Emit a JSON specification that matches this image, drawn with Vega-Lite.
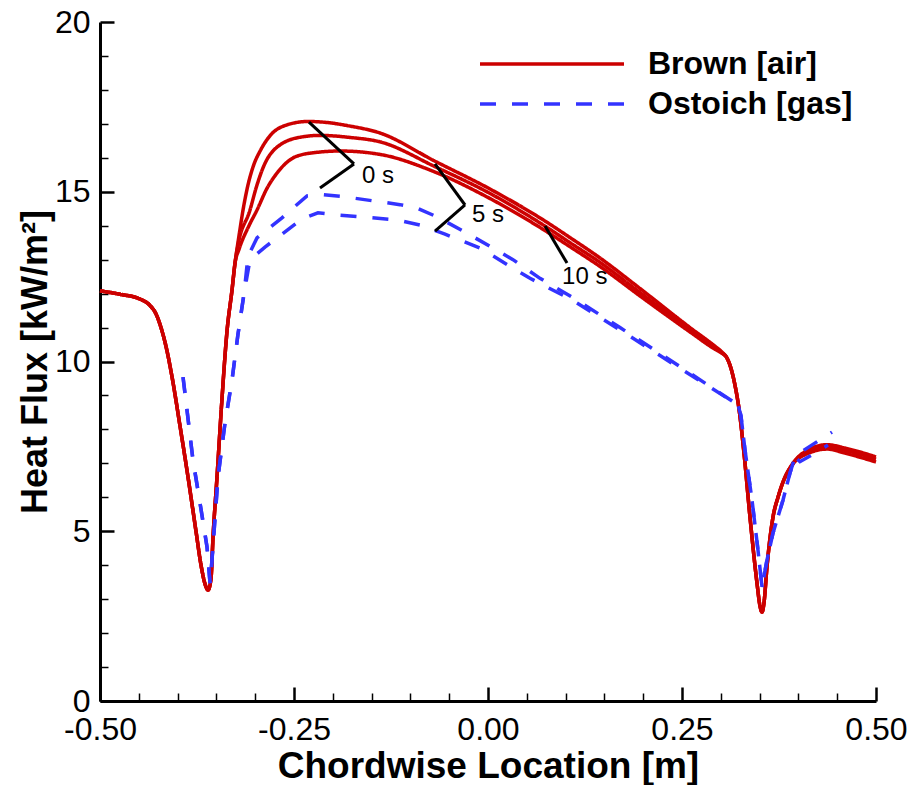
{
  "$schema": "https://vega.github.io/schema/vega-lite/v6.json",
  "width": 776,
  "height": 679,
  "autosize": {"type": "none"},
  "padding": {"left": 100, "top": 22, "right": 35, "bottom": 84},
  "config": {"view": {"stroke": null}, "font": "Liberation Sans"},
  "datasets": {
    "curves": [
      {"source":"Brown [air]","run":"0 s","x":-0.5,"y":12.08},{"source":"Brown [air]","run":"0 s","x":-0.4742,"y":11.98},{"source":"Brown [air]","run":"0 s","x":-0.4485,"y":11.84},{"source":"Brown [air]","run":"0 s","x":-0.4356,"y":11.65},{"source":"Brown [air]","run":"0 s","x":-0.4278,"y":11.4},{"source":"Brown [air]","run":"0 s","x":-0.4214,"y":11.0},{"source":"Brown [air]","run":"0 s","x":-0.415,"y":10.45},{"source":"Brown [air]","run":"0 s","x":-0.4072,"y":9.55},{"source":"Brown [air]","run":"0 s","x":-0.3969,"y":8.1},{"source":"Brown [air]","run":"0 s","x":-0.3866,"y":6.6},{"source":"Brown [air]","run":"0 s","x":-0.3763,"y":5.0},{"source":"Brown [air]","run":"0 s","x":-0.3698,"y":4.0},{"source":"Brown [air]","run":"0 s","x":-0.3647,"y":3.45},{"source":"Brown [air]","run":"0 s","x":-0.3608,"y":3.27},{"source":"Brown [air]","run":"0 s","x":-0.357,"y":3.6},{"source":"Brown [air]","run":"0 s","x":-0.3544,"y":4.8},{"source":"Brown [air]","run":"0 s","x":-0.3492,"y":6.6},{"source":"Brown [air]","run":"0 s","x":-0.3428,"y":8.9},{"source":"Brown [air]","run":"0 s","x":-0.3363,"y":10.9},{"source":"Brown [air]","run":"0 s","x":-0.3299,"y":12.1},{"source":"Brown [air]","run":"0 s","x":-0.326,"y":12.9},
      {"source":"Brown [air]","run":"0 s","x":-0.3209,"y":13.7},{"source":"Brown [air]","run":"0 s","x":-0.3157,"y":14.46},{"source":"Brown [air]","run":"0 s","x":-0.3093,"y":15.2},{"source":"Brown [air]","run":"0 s","x":-0.3028,"y":15.73},{"source":"Brown [air]","run":"0 s","x":-0.2925,"y":16.25},{"source":"Brown [air]","run":"0 s","x":-0.2809,"y":16.65},{"source":"Brown [air]","run":"0 s","x":-0.259,"y":16.97},{"source":"Brown [air]","run":"0 s","x":-0.232,"y":17.07},{"source":"Brown [air]","run":"0 s","x":-0.2036,"y":17.03},{"source":"Brown [air]","run":"0 s","x":-0.1817,"y":16.95},{"source":"Brown [air]","run":"0 s","x":-0.1392,"y":16.73},{"source":"Brown [air]","run":"0 s","x":-0.0683,"y":15.9},{"source":"Brown [air]","run":"0 s","x":0.0026,"y":15.08},{"source":"Brown [air]","run":"0 s","x":0.076,"y":14.1},{"source":"Brown [air]","run":"0 s","x":0.1057,"y":13.65},{"source":"Brown [air]","run":"0 s","x":0.1443,"y":13.05},{"source":"Brown [air]","run":"0 s","x":0.1959,"y":12.15},{"source":"Brown [air]","run":"0 s","x":0.2603,"y":11.0},{"source":"Brown [air]","run":"0 s","x":0.2925,"y":10.45},{"source":"Brown [air]","run":"0 s","x":0.3015,"y":10.28},
      {"source":"Brown [air]","run":"0 s","x":0.308,"y":10.1},{"source":"Brown [air]","run":"0 s","x":0.3131,"y":9.8},{"source":"Brown [air]","run":"0 s","x":0.3183,"y":9.3},{"source":"Brown [air]","run":"0 s","x":0.3235,"y":8.6},{"source":"Brown [air]","run":"0 s","x":0.3299,"y":7.3},{"source":"Brown [air]","run":"0 s","x":0.3376,"y":5.42},{"source":"Brown [air]","run":"0 s","x":0.3466,"y":3.48},{"source":"Brown [air]","run":"0 s","x":0.3505,"y":2.8},{"source":"Brown [air]","run":"0 s","x":0.3531,"y":2.62},{"source":"Brown [air]","run":"0 s","x":0.3557,"y":2.9},{"source":"Brown [air]","run":"0 s","x":0.3595,"y":3.95},{"source":"Brown [air]","run":"0 s","x":0.3673,"y":5.42},{"source":"Brown [air]","run":"0 s","x":0.3737,"y":6.0},{"source":"Brown [air]","run":"0 s","x":0.3802,"y":6.45},{"source":"Brown [air]","run":"0 s","x":0.393,"y":7.0},{"source":"Brown [air]","run":"0 s","x":0.4111,"y":7.38},{"source":"Brown [air]","run":"0 s","x":0.4369,"y":7.55},{"source":"Brown [air]","run":"0 s","x":0.46,"y":7.45},{"source":"Brown [air]","run":"0 s","x":0.5,"y":7.19},

      {"source":"Brown [air]","run":"5 s","x":-0.5,"y":12.08},{"source":"Brown [air]","run":"5 s","x":-0.4742,"y":11.98},{"source":"Brown [air]","run":"5 s","x":-0.4485,"y":11.84},{"source":"Brown [air]","run":"5 s","x":-0.4356,"y":11.65},{"source":"Brown [air]","run":"5 s","x":-0.4278,"y":11.4},{"source":"Brown [air]","run":"5 s","x":-0.4214,"y":11.0},{"source":"Brown [air]","run":"5 s","x":-0.415,"y":10.45},{"source":"Brown [air]","run":"5 s","x":-0.4072,"y":9.55},{"source":"Brown [air]","run":"5 s","x":-0.3969,"y":8.1},{"source":"Brown [air]","run":"5 s","x":-0.3866,"y":6.6},{"source":"Brown [air]","run":"5 s","x":-0.3763,"y":5.0},{"source":"Brown [air]","run":"5 s","x":-0.3698,"y":4.0},{"source":"Brown [air]","run":"5 s","x":-0.3647,"y":3.45},{"source":"Brown [air]","run":"5 s","x":-0.3608,"y":3.27},{"source":"Brown [air]","run":"5 s","x":-0.357,"y":3.6},{"source":"Brown [air]","run":"5 s","x":-0.3544,"y":4.8},{"source":"Brown [air]","run":"5 s","x":-0.3492,"y":6.6},{"source":"Brown [air]","run":"5 s","x":-0.3428,"y":8.9},{"source":"Brown [air]","run":"5 s","x":-0.3363,"y":10.9},{"source":"Brown [air]","run":"5 s","x":-0.3299,"y":12.1},{"source":"Brown [air]","run":"5 s","x":-0.326,"y":12.9},
      {"source":"Brown [air]","run":"5 s","x":-0.322,"y":13.45},{"source":"Brown [air]","run":"5 s","x":-0.3067,"y":14.46},{"source":"Brown [air]","run":"5 s","x":-0.299,"y":15.1},{"source":"Brown [air]","run":"5 s","x":-0.29,"y":15.7},{"source":"Brown [air]","run":"5 s","x":-0.268,"y":16.38},{"source":"Brown [air]","run":"5 s","x":-0.2384,"y":16.62},{"source":"Brown [air]","run":"5 s","x":-0.2165,"y":16.66},{"source":"Brown [air]","run":"5 s","x":-0.178,"y":16.6},{"source":"Brown [air]","run":"5 s","x":-0.1392,"y":16.47},{"source":"Brown [air]","run":"5 s","x":-0.0683,"y":15.74},{"source":"Brown [air]","run":"5 s","x":0.0026,"y":14.95},{"source":"Brown [air]","run":"5 s","x":0.076,"y":13.95},{"source":"Brown [air]","run":"5 s","x":0.1057,"y":13.5},{"source":"Brown [air]","run":"5 s","x":0.1443,"y":12.92},{"source":"Brown [air]","run":"5 s","x":0.1959,"y":12.03},{"source":"Brown [air]","run":"5 s","x":0.2603,"y":10.93},{"source":"Brown [air]","run":"5 s","x":0.2925,"y":10.4},{"source":"Brown [air]","run":"5 s","x":0.3015,"y":10.26},
      {"source":"Brown [air]","run":"5 s","x":0.308,"y":10.1},{"source":"Brown [air]","run":"5 s","x":0.3131,"y":9.8},{"source":"Brown [air]","run":"5 s","x":0.3183,"y":9.3},{"source":"Brown [air]","run":"5 s","x":0.3235,"y":8.6},{"source":"Brown [air]","run":"5 s","x":0.3299,"y":7.3},{"source":"Brown [air]","run":"5 s","x":0.3376,"y":5.42},{"source":"Brown [air]","run":"5 s","x":0.3466,"y":3.48},{"source":"Brown [air]","run":"5 s","x":0.3505,"y":2.8},{"source":"Brown [air]","run":"5 s","x":0.3531,"y":2.62},{"source":"Brown [air]","run":"5 s","x":0.3557,"y":2.9},{"source":"Brown [air]","run":"5 s","x":0.3595,"y":3.95},{"source":"Brown [air]","run":"5 s","x":0.3673,"y":5.42},{"source":"Brown [air]","run":"5 s","x":0.3737,"y":6.0},{"source":"Brown [air]","run":"5 s","x":0.3802,"y":6.45},{"source":"Brown [air]","run":"5 s","x":0.393,"y":7.0},{"source":"Brown [air]","run":"5 s","x":0.4111,"y":7.33},{"source":"Brown [air]","run":"5 s","x":0.4369,"y":7.48},{"source":"Brown [air]","run":"5 s","x":0.46,"y":7.38},{"source":"Brown [air]","run":"5 s","x":0.5,"y":7.12},

      {"source":"Brown [air]","run":"10 s","x":-0.5,"y":12.08},{"source":"Brown [air]","run":"10 s","x":-0.4742,"y":11.98},{"source":"Brown [air]","run":"10 s","x":-0.4485,"y":11.84},{"source":"Brown [air]","run":"10 s","x":-0.4356,"y":11.65},{"source":"Brown [air]","run":"10 s","x":-0.4278,"y":11.4},{"source":"Brown [air]","run":"10 s","x":-0.4214,"y":11.0},{"source":"Brown [air]","run":"10 s","x":-0.415,"y":10.45},{"source":"Brown [air]","run":"10 s","x":-0.4072,"y":9.55},{"source":"Brown [air]","run":"10 s","x":-0.3969,"y":8.1},{"source":"Brown [air]","run":"10 s","x":-0.3866,"y":6.6},{"source":"Brown [air]","run":"10 s","x":-0.3763,"y":5.0},{"source":"Brown [air]","run":"10 s","x":-0.3698,"y":4.0},{"source":"Brown [air]","run":"10 s","x":-0.3647,"y":3.45},{"source":"Brown [air]","run":"10 s","x":-0.3608,"y":3.27},{"source":"Brown [air]","run":"10 s","x":-0.357,"y":3.6},{"source":"Brown [air]","run":"10 s","x":-0.3544,"y":4.8},{"source":"Brown [air]","run":"10 s","x":-0.3492,"y":6.6},{"source":"Brown [air]","run":"10 s","x":-0.3428,"y":8.9},{"source":"Brown [air]","run":"10 s","x":-0.3363,"y":10.9},{"source":"Brown [air]","run":"10 s","x":-0.3299,"y":12.1},{"source":"Brown [air]","run":"10 s","x":-0.326,"y":12.9},
      {"source":"Brown [air]","run":"10 s","x":-0.3209,"y":13.3},{"source":"Brown [air]","run":"10 s","x":-0.308,"y":14.0},{"source":"Brown [air]","run":"10 s","x":-0.2977,"y":14.46},{"source":"Brown [air]","run":"10 s","x":-0.2848,"y":15.1},{"source":"Brown [air]","run":"10 s","x":-0.2719,"y":15.55},{"source":"Brown [air]","run":"10 s","x":-0.2461,"y":16.05},{"source":"Brown [air]","run":"10 s","x":-0.2165,"y":16.17},{"source":"Brown [air]","run":"10 s","x":-0.1907,"y":16.2},{"source":"Brown [air]","run":"10 s","x":-0.1392,"y":16.1},{"source":"Brown [air]","run":"10 s","x":-0.0683,"y":15.58},{"source":"Brown [air]","run":"10 s","x":0.0026,"y":14.8},{"source":"Brown [air]","run":"10 s","x":0.076,"y":13.82},{"source":"Brown [air]","run":"10 s","x":0.1057,"y":13.38},{"source":"Brown [air]","run":"10 s","x":0.1443,"y":12.8},{"source":"Brown [air]","run":"10 s","x":0.1959,"y":11.93},{"source":"Brown [air]","run":"10 s","x":0.2603,"y":10.87},{"source":"Brown [air]","run":"10 s","x":0.2925,"y":10.36},{"source":"Brown [air]","run":"10 s","x":0.3015,"y":10.24},
      {"source":"Brown [air]","run":"10 s","x":0.308,"y":10.1},{"source":"Brown [air]","run":"10 s","x":0.3131,"y":9.8},{"source":"Brown [air]","run":"10 s","x":0.3183,"y":9.3},{"source":"Brown [air]","run":"10 s","x":0.3235,"y":8.6},{"source":"Brown [air]","run":"10 s","x":0.3299,"y":7.3},{"source":"Brown [air]","run":"10 s","x":0.3376,"y":5.42},{"source":"Brown [air]","run":"10 s","x":0.3466,"y":3.48},{"source":"Brown [air]","run":"10 s","x":0.3505,"y":2.8},{"source":"Brown [air]","run":"10 s","x":0.3531,"y":2.62},{"source":"Brown [air]","run":"10 s","x":0.3557,"y":2.9},{"source":"Brown [air]","run":"10 s","x":0.3595,"y":3.95},{"source":"Brown [air]","run":"10 s","x":0.3673,"y":5.42},{"source":"Brown [air]","run":"10 s","x":0.3737,"y":6.0},{"source":"Brown [air]","run":"10 s","x":0.3802,"y":6.45},{"source":"Brown [air]","run":"10 s","x":0.393,"y":6.98},{"source":"Brown [air]","run":"10 s","x":0.4111,"y":7.28},{"source":"Brown [air]","run":"10 s","x":0.4369,"y":7.42},{"source":"Brown [air]","run":"10 s","x":0.46,"y":7.3},{"source":"Brown [air]","run":"10 s","x":0.5,"y":7.04},

      {"source":"Ostoich [gas]","run":"0 s","x":-0.393,"y":9.54},{"source":"Ostoich [gas]","run":"0 s","x":-0.3879,"y":8.57},{"source":"Ostoich [gas]","run":"0 s","x":-0.3802,"y":7.1},{"source":"Ostoich [gas]","run":"0 s","x":-0.3711,"y":5.83},{"source":"Ostoich [gas]","run":"0 s","x":-0.3621,"y":4.54},{"source":"Ostoich [gas]","run":"0 s","x":-0.3582,"y":3.47},{"source":"Ostoich [gas]","run":"0 s","x":-0.3557,"y":4.15},{"source":"Ostoich [gas]","run":"0 s","x":-0.3479,"y":6.6},{"source":"Ostoich [gas]","run":"0 s","x":-0.3389,"y":8.19},{"source":"Ostoich [gas]","run":"0 s","x":-0.3299,"y":9.45},{"source":"Ostoich [gas]","run":"0 s","x":-0.3222,"y":10.8},{"source":"Ostoich [gas]","run":"0 s","x":-0.3144,"y":12.0},{"source":"Ostoich [gas]","run":"0 s","x":-0.3093,"y":13.1},
      {"source":"Ostoich [gas]","run":"0 s","x":-0.2977,"y":13.64},{"source":"Ostoich [gas]","run":"0 s","x":-0.2655,"y":14.23},{"source":"Ostoich [gas]","run":"0 s","x":-0.2513,"y":14.52},{"source":"Ostoich [gas]","run":"0 s","x":-0.2332,"y":14.88},{"source":"Ostoich [gas]","run":"0 s","x":-0.2165,"y":14.92},{"source":"Ostoich [gas]","run":"0 s","x":-0.1843,"y":14.85},{"source":"Ostoich [gas]","run":"0 s","x":-0.1134,"y":14.62},{"source":"Ostoich [gas]","run":"0 s","x":-0.0915,"y":14.52},{"source":"Ostoich [gas]","run":"0 s","x":-0.0657,"y":14.26},{"source":"Ostoich [gas]","run":"0 s","x":-0.0271,"y":13.78},{"source":"Ostoich [gas]","run":"0 s","x":0.0322,"y":13.0},{"source":"Ostoich [gas]","run":"0 s","x":0.067,"y":12.45},{"source":"Ostoich [gas]","run":"0 s","x":0.1095,"y":11.88},{"source":"Ostoich [gas]","run":"0 s","x":0.1701,"y":11.0},{"source":"Ostoich [gas]","run":"0 s","x":0.2474,"y":9.85},{"source":"Ostoich [gas]","run":"0 s","x":0.3222,"y":8.72},
      {"source":"Ostoich [gas]","run":"0 s","x":0.326,"y":8.4},{"source":"Ostoich [gas]","run":"0 s","x":0.3312,"y":7.39},{"source":"Ostoich [gas]","run":"0 s","x":0.3402,"y":5.92},{"source":"Ostoich [gas]","run":"0 s","x":0.3479,"y":4.45},{"source":"Ostoich [gas]","run":"0 s","x":0.3531,"y":3.36},{"source":"Ostoich [gas]","run":"0 s","x":0.3595,"y":4.15},{"source":"Ostoich [gas]","run":"0 s","x":0.3673,"y":4.95},{"source":"Ostoich [gas]","run":"0 s","x":0.3802,"y":5.92},{"source":"Ostoich [gas]","run":"0 s","x":0.3892,"y":6.72},{"source":"Ostoich [gas]","run":"0 s","x":0.3956,"y":7.19},{"source":"Ostoich [gas]","run":"0 s","x":0.4072,"y":7.39},{"source":"Ostoich [gas]","run":"0 s","x":0.4433,"y":7.92},

      {"source":"Ostoich [gas]","run":"5 s","x":-0.393,"y":9.54},{"source":"Ostoich [gas]","run":"5 s","x":-0.3879,"y":8.57},{"source":"Ostoich [gas]","run":"5 s","x":-0.3802,"y":7.1},{"source":"Ostoich [gas]","run":"5 s","x":-0.3711,"y":5.83},{"source":"Ostoich [gas]","run":"5 s","x":-0.3621,"y":4.54},{"source":"Ostoich [gas]","run":"5 s","x":-0.3582,"y":3.47},{"source":"Ostoich [gas]","run":"5 s","x":-0.3557,"y":4.15},{"source":"Ostoich [gas]","run":"5 s","x":-0.3479,"y":6.6},{"source":"Ostoich [gas]","run":"5 s","x":-0.3389,"y":8.19},{"source":"Ostoich [gas]","run":"5 s","x":-0.3299,"y":9.45},{"source":"Ostoich [gas]","run":"5 s","x":-0.3222,"y":10.8},{"source":"Ostoich [gas]","run":"5 s","x":-0.3144,"y":12.0},
      {"source":"Ostoich [gas]","run":"5 s","x":-0.3067,"y":13.0},{"source":"Ostoich [gas]","run":"5 s","x":-0.2874,"y":13.37},{"source":"Ostoich [gas]","run":"5 s","x":-0.2397,"y":14.2},{"source":"Ostoich [gas]","run":"5 s","x":-0.2191,"y":14.38},{"source":"Ostoich [gas]","run":"5 s","x":-0.1997,"y":14.33},{"source":"Ostoich [gas]","run":"5 s","x":-0.1173,"y":14.17},{"source":"Ostoich [gas]","run":"5 s","x":-0.0876,"y":14.02},{"source":"Ostoich [gas]","run":"5 s","x":-0.0554,"y":13.75},{"source":"Ostoich [gas]","run":"5 s","x":-0.0103,"y":13.34},{"source":"Ostoich [gas]","run":"5 s","x":0.0541,"y":12.45},{"source":"Ostoich [gas]","run":"5 s","x":0.1095,"y":11.8},{"source":"Ostoich [gas]","run":"5 s","x":0.1701,"y":10.93},{"source":"Ostoich [gas]","run":"5 s","x":0.2474,"y":9.8},{"source":"Ostoich [gas]","run":"5 s","x":0.3222,"y":8.72},
      {"source":"Ostoich [gas]","run":"5 s","x":0.326,"y":8.4},{"source":"Ostoich [gas]","run":"5 s","x":0.3312,"y":7.39},{"source":"Ostoich [gas]","run":"5 s","x":0.3402,"y":5.92},{"source":"Ostoich [gas]","run":"5 s","x":0.3479,"y":4.45},{"source":"Ostoich [gas]","run":"5 s","x":0.3531,"y":3.36},{"source":"Ostoich [gas]","run":"5 s","x":0.3595,"y":4.15},{"source":"Ostoich [gas]","run":"5 s","x":0.3673,"y":4.95},{"source":"Ostoich [gas]","run":"5 s","x":0.3802,"y":5.92},{"source":"Ostoich [gas]","run":"5 s","x":0.3892,"y":6.72},{"source":"Ostoich [gas]","run":"5 s","x":0.3956,"y":7.19},{"source":"Ostoich [gas]","run":"5 s","x":0.402,"y":7.05},{"source":"Ostoich [gas]","run":"5 s","x":0.4175,"y":7.25},{"source":"Ostoich [gas]","run":"5 s","x":0.4381,"y":7.54}
    ],
    "pointers": [
      {"x":-0.2307,"y":17.05,"x2":-0.1727,"y2":15.82},
      {"x":-0.1727,"y":15.82,"x2":-0.2165,"y2":15.11},
      {"x":-0.0683,"y":15.82,"x2":-0.0296,"y2":14.61},
      {"x":-0.0296,"y":14.61,"x2":-0.0683,"y2":13.84},
      {"x":0.0735,"y":13.99,"x2":0.1018,"y2":12.9}
    ],
    "labels": [
      {"x":-0.1624,"y":15.46,"text":"0 s"},
      {"x":-0.0206,"y":14.31,"text":"5 s"},
      {"x":0.0954,"y":12.49,"text":"10 s"}
    ]
  },
  "layer": [
    {
      "data": {"name": "curves"},
      "transform": [{"filter": "datum.source === 'Brown [air]'"}],
      "mark": {"type": "line", "interpolate": "monotone", "strokeWidth": 3.5},
      "encoding": {
        "x": {"field": "x", "type": "quantitative", "scale": {"domain": [-0.5, 0.5], "nice": false, "zero": false},
          "axis": {"orient": "bottom", "values": [-0.5, -0.25, 0, 0.25, 0.5], "labelExpr": "(datum.value < 0 ? '-' : '') + format(abs(datum.value), '.2f')", "labelFont": "Liberation Sans", "labelFontSize": 32, "labelColor": "black", "labelPadding": 13, "labelFlush": false, "labelOverlap": false, "ticks": false, "domainColor": "black", "domainWidth": 3, "grid": false, "title": "Chordwise Location [m]", "titleFont": "Liberation Sans", "titleFontSize": 37, "titleFontWeight": "bold", "titleColor": "black", "titlePadding": 3}},
        "y": {"field": "y", "type": "quantitative", "scale": {"domain": [0, 20], "nice": false},
          "axis": {"orient": "left", "values": [0, 5, 10, 15, 20], "format": "d", "labelFont": "Liberation Sans", "labelFontSize": 32, "labelColor": "black", "labelPadding": 10, "labelFlush": false, "labelOverlap": false, "ticks": false, "domainColor": "black", "domainWidth": 3, "grid": false, "title": "Heat Flux [kW/m²]", "titleFont": "Liberation Sans", "titleFontSize": 36, "titleFontWeight": "bold", "titleColor": "black", "titlePadding": 0}},
        "color": {"field": "source", "type": "nominal", "scale": {"domain": ["Brown [air]", "Ostoich [gas]"], "range": ["#cc0000", "#3333ff"]},
          "legend": {"orient": "none", "legendX": 432, "legendY": 22, "title": null, "labelFont": "Liberation Sans", "labelFontSize": 32, "labelFontWeight": "bold", "labelColor": "black", "labelLimit": 400, "symbolType": "M-4,0H4", "symbolSize": 1296, "symbolStrokeWidth": 3.5, "labelOffset": 76, "rowPadding": 4, "padding": 0}},
        "strokeDash": {"field": "source", "type": "nominal", "scale": {"domain": ["Brown [air]", "Ostoich [gas]"], "range": [[1, 0], [16, 16]]},
          "legend": {"orient": "none", "legendX": 432, "legendY": 22, "title": null, "labelFont": "Liberation Sans", "labelFontSize": 32, "labelFontWeight": "bold", "labelColor": "black", "labelLimit": 400, "symbolType": "M-4,0H4", "symbolSize": 1296, "symbolStrokeWidth": 3.5, "labelOffset": 76, "rowPadding": 4, "padding": 0}},
        "detail": {"field": "run", "type": "nominal"}
      }
    },
    {
      "data": {"name": "curves"},
      "transform": [{"filter": "datum.source === 'Ostoich [gas]'"}],
      "mark": {"type": "line", "interpolate": "linear", "strokeWidth": 3.5},
      "encoding": {
        "x": {"field": "x", "type": "quantitative", "scale": {"domain": [-0.5, 0.5], "nice": false, "zero": false},
          "axis": {"orient": "bottom", "offset": -8, "values": [-0.45, -0.4, -0.35, -0.3, -0.2, -0.15, -0.1, -0.05, 0.05, 0.1, 0.15, 0.2, 0.3, 0.35, 0.4, 0.45], "labels": false, "domain": false, "title": null, "grid": false, "tickSize": 8, "tickWidth": 1.5, "tickColor": "black"}},
        "y": {"field": "y", "type": "quantitative", "scale": {"domain": [0, 20], "nice": false},
          "axis": {"orient": "left", "offset": -8, "values": [1, 2, 3, 4, 6, 7, 8, 9, 11, 12, 13, 14, 16, 17, 18, 19], "labels": false, "domain": false, "title": null, "grid": false, "tickSize": 8, "tickWidth": 1.5, "tickColor": "black"}},
        "color": {"field": "source", "type": "nominal", "scale": {"domain": ["Brown [air]", "Ostoich [gas]"], "range": ["#cc0000", "#3333ff"]}},
        "strokeDash": {"field": "source", "type": "nominal", "scale": {"domain": ["Brown [air]", "Ostoich [gas]"], "range": [[1, 0], [16, 16]]}},
        "detail": {"field": "run", "type": "nominal"}
      }
    },
    {
      "data": {"name": "pointers"},
      "mark": {"type": "rule", "color": "black", "strokeWidth": 3},
      "encoding": {
        "x": {"field": "x", "type": "quantitative", "scale": {"domain": [-0.5, 0.5], "nice": false, "zero": false},
          "axis": {"orient": "bottom", "offset": -14, "values": [-0.5, -0.25, 0, 0.25, 0.5], "labels": false, "domain": false, "title": null, "grid": false, "tickSize": 14, "tickWidth": 2.5, "tickColor": "black"}},
        "y": {"field": "y", "type": "quantitative", "scale": {"domain": [0, 20], "nice": false},
          "axis": {"orient": "left", "offset": -14, "values": [0, 5, 10, 15, 20], "labels": false, "domain": false, "title": null, "grid": false, "tickSize": 14, "tickWidth": 2.5, "tickColor": "black"}},
        "x2": {"field": "x2"},
        "y2": {"field": "y2"}
      }
    },
    {
      "data": {"name": "labels"},
      "mark": {"type": "text", "align": "left", "baseline": "middle", "font": "Liberation Sans", "fontSize": 24, "color": "black"},
      "encoding": {
        "x": {"field": "x", "type": "quantitative", "axis": null},
        "y": {"field": "y", "type": "quantitative", "axis": null},
        "text": {"field": "text"}
      }
    }
  ],
  "resolve": {"axis": {"x": "independent", "y": "independent"}}
}
